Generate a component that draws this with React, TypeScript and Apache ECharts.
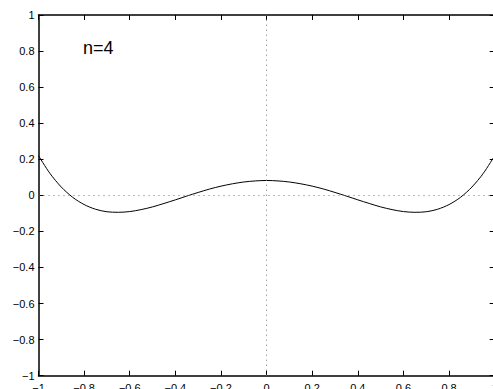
import React, { useEffect, useRef } from "react";
import * as echarts from "echarts";

const xValues = [
  -1, -0.95, -0.9, -0.85, -0.8, -0.75, -0.7, -0.65, -0.6, -0.55, -0.5, -0.45, -0.4, -0.35, -0.3, -0.25, -0.2, -0.15, -0.1, -0.05,
  0, 0.05, 0.1, 0.15, 0.2, 0.25, 0.3, 0.35, 0.4, 0.45, 0.5, 0.55, 0.6, 0.65, 0.7, 0.75, 0.8, 0.85, 0.9, 0.95, 1,
];
const yValues = [
  0.22, 0.122, 0.046, -0.011, -0.051, -0.077, -0.091, -0.094, -0.09, -0.079, -0.064, -0.045, -0.025, -0.004, 0.016, 0.035, 0.051, 0.064, 0.074, 0.08,
  0.0825, 0.08, 0.074, 0.064, 0.051, 0.035, 0.016, -0.004, -0.025, -0.045, -0.064, -0.079, -0.09, -0.094, -0.091, -0.077, -0.051, -0.011, 0.046, 0.122, 0.22,
];
const annotation = "n=4";

const FONT = "'Liberation Sans', Arial, Helvetica, sans-serif";

const fmt = (v: number) => {
  const r = Math.round(v * 10) / 10;
  return String(r).replace("-", "\u2212");
};

export default function App() {
  const ref = useRef<HTMLDivElement>(null);
  useEffect(() => {
    if (!ref.current) return;
    const chart = echarts.init(ref.current, null, { renderer: "svg" });
    const axisCommon = {
      type: "value" as const,
      min: -1,
      max: 1,
      interval: 0.2,
      splitLine: { show: false },
      axisLine: { show: true, onZero: false, lineStyle: { color: "#000", width: 1.5 } },
      axisTick: { show: true, inside: true, length: 5, lineStyle: { color: "#000", width: 1 } },
    };
    chart.setOption({
      animation: false,
      backgroundColor: "#fff",
      grid: { left: 38.5, top: 15, width: 456.2, height: 360.7, containLabel: false },
      xAxis: [
        {
          ...axisCommon,
          position: "bottom",
          axisLabel: { show: true, formatter: fmt, color: "#000", fontSize: 11, fontFamily: FONT, margin: 7 },
        },
        {
          ...axisCommon,
          position: "top",
          axisLabel: { show: false },
        },
      ],
      yAxis: [
        {
          ...axisCommon,
          position: "left",
          axisLabel: { show: true, formatter: fmt, color: "#000", fontSize: 11, fontFamily: FONT, margin: 4 },
        },
        {
          ...axisCommon,
          position: "right",
          axisLabel: { show: false },
        },
      ],
      series: [
        {
          type: "line",
          data: xValues.map((x, i) => [x, yValues[i]]),
          showSymbol: false,
          smooth: 0.3,
          lineStyle: { color: "#000", width: 1 },
          markLine: {
            silent: true,
            symbol: "none",
            label: { show: false },
            lineStyle: { color: "#777", type: [1, 4], width: 1 },
            data: [{ xAxis: 0 }, { yAxis: 0 }],
          },
          z: 3,
        },
      ],
      graphic: [
        {
          type: "text",
          left: 83,
          top: 39,
          style: { text: annotation, fontSize: 18, fontFamily: FONT, fill: "#000" },
        },
      ],
    });
    return () => chart.dispose();
  }, []);
  return (
    <div style={{ position: "fixed", left: 0, top: 0, width: 493, height: 389, overflow: "hidden", background: "#fff" }}>
      <div ref={ref} style={{ width: 520, height: 420 }} />
    </div>
  );
}
